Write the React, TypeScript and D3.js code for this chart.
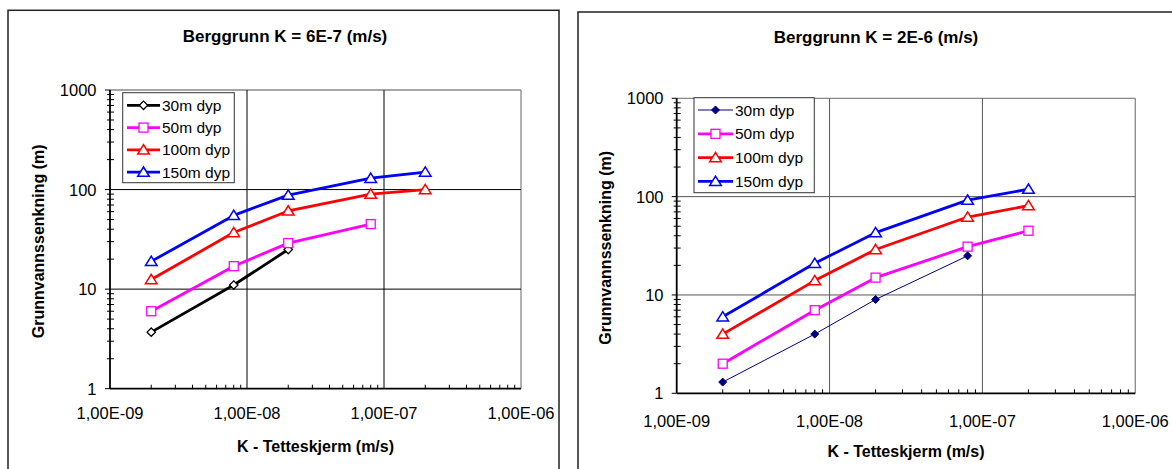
import React from 'react';
import * as d3 from 'd3';

// ---------- data ----------
const kValues = [2e-9, 8e-9, 2e-8, 8e-8, 2e-7];
const seriesNames = ['30m dyp', '50m dyp', '100m dyp', '150m dyp'];

const left30 = [3.7, 11, 25];
const left50 = [6, 17, 29, 45];
const left100 = [12.5, 37, 61, 90, 100];
const left150 = [19, 55, 88, 130, 150];

const right30 = [1.3, 4, 9, 25];
const right50 = [2, 7, 15, 31, 45];
const right100 = [4, 14, 29, 62, 81];
const right150 = [6, 21, 43, 92, 119];

const xTickValues = [1e-9, 1e-8, 1e-7, 1e-6];
const xTickLabels = ['1,00E-09', '1,00E-08', '1,00E-07', '1,00E-06'];
const yTickValues = [1, 10, 100, 1000];
const yTickLabels = ['1', '10', '100', '1000'];

const titleLeft = 'Berggrunn K = 6E-7 (m/s)';
const titleRight = 'Berggrunn K = 2E-6 (m/s)';
const xTitle = 'K - Tetteskjerm (m/s)';
const yTitle = 'Grunnvannssenkning (m)';

const FONT = '"Liberation Sans", Arial, Helvetica, sans-serif';

type SeriesStyle = {
  name: string;
  values: number[];
  color: string;
  width: number;
  marker: 'diamondOpen' | 'diamondFilled' | 'square' | 'triangle';
};

type Layout = {
  box: { x: number; y: number; w: number; h: number };
  plot: { x0: number; x1: number; y0: number; y1: number };
  title: string;
  titleX: number;
  titleY: number;
  yLabelRight: number;
  xLabelBaseline: number;
  xTitleBaseline: number;
  yTitleX: number;
  legend: { x0: number; y0: number; x1: number; y1: number; rowY: number; rowStep: number; sx0: number; sx1: number; tx: number };
  gridColor: string;
  series: SeriesStyle[];
};

function Marker({ type, x, y, color }: { type: SeriesStyle['marker']; x: number; y: number; color: string }) {
  if (type === 'triangle') {
    const s = 5.2;
    const p = `M${x},${y - s} L${x + s + 0.6},${y + s * 0.8} L${x - s - 0.6},${y + s * 0.8} Z`;
    return <path d={p} fill="white" stroke={color} strokeWidth={1.5} />;
  }
  if (type === 'square') {
    const s = 4.5;
    return <rect x={x - s} y={y - s} width={2 * s} height={2 * s} fill="white" stroke={color} strokeWidth={1.3} />;
  }
  if (type === 'diamondOpen') {
    const s = 4.2;
    const p = `M${x},${y - s} L${x + s},${y} L${x},${y + s} L${x - s},${y} Z`;
    return <path d={p} fill="white" stroke={color} strokeWidth={1.3} />;
  }
  const s = 4;
  const p = `M${x},${y - s} L${x + s},${y} L${x},${y + s} L${x - s},${y} Z`;
  return <path d={p} fill={color} stroke={color} strokeWidth={1} />;
}

function Chart({ L }: { L: Layout }) {
  const { plot } = L;
  const x = d3.scaleLog().domain([1e-9, 1e-6]).range([plot.x0, plot.x1]);
  const y = d3.scaleLog().domain([1, 1000]).range([plot.y1, plot.y0]);
  const line = d3
    .line<[number, number]>()
    .x((d) => x(d[0]))
    .y((d) => y(d[1]));

  const minorX: number[] = [];
  for (let e = -9; e < -6; e++) for (let m = 2; m <= 9; m++) minorX.push(m * Math.pow(10, e));
  const minorY: number[] = [];
  for (let e = 0; e < 3; e++) for (let m = 2; m <= 9; m++) minorY.push(m * Math.pow(10, e));

  const lg = L.legend;
  return (
    <g>
      <rect x={L.box.x} y={L.box.y} width={L.box.w} height={L.box.h} fill="white" stroke="#222" strokeWidth={1.5} />
      <text x={L.titleX} y={L.titleY} textAnchor="middle" fontFamily={FONT} fontWeight="bold" fontSize={17}>
        {L.title}
      </text>
      {/* plot frame top/right */}
      <line x1={plot.x0} x2={plot.x1} y1={plot.y0} y2={plot.y0} stroke="#888" strokeWidth={1.3} />
      <line x1={plot.x1} x2={plot.x1} y1={plot.y0} y2={plot.y1} stroke="#888" strokeWidth={1.3} />
      {/* gridlines */}
      {xTickValues.slice(1, -1).map((v) => (
        <line key={'gx' + v} x1={x(v)} x2={x(v)} y1={plot.y0} y2={plot.y1} stroke={L.gridColor} strokeWidth={1} />
      ))}
      {yTickValues.slice(1, -1).map((v) => (
        <line key={'gy' + v} x1={plot.x0} x2={plot.x1} y1={y(v)} y2={y(v)} stroke={L.gridColor} strokeWidth={1} />
      ))}
      {/* minor ticks */}
      {minorX.map((v) => (
        <line key={'mx' + v} x1={x(v)} x2={x(v)} y1={plot.y1} y2={plot.y1 - 4} stroke="#000" strokeWidth={1} />
      ))}
      {minorY.map((v) => (
        <line key={'my' + v} x1={plot.x0 - 3} x2={plot.x0 + 4} y1={y(v)} y2={y(v)} stroke="#000" strokeWidth={1} />
      ))}
      {yTickValues.map((v) => (
        <line key={'My' + v} x1={plot.x0 - 5} x2={plot.x0} y1={y(v)} y2={y(v)} stroke="#000" strokeWidth={1} />
      ))}
      {/* axes */}
      <line x1={plot.x0} x2={plot.x0} y1={plot.y0} y2={plot.y1} stroke="#000" strokeWidth={1.8} />
      <line x1={plot.x0} x2={plot.x1} y1={plot.y1} y2={plot.y1} stroke="#000" strokeWidth={1.8} />
      {/* tick labels */}
      {yTickValues.map((v, i) => (
        <text key={'yl' + v} x={L.yLabelRight} y={y(v) + 6} textAnchor="end" fontFamily={FONT} fontSize={16.5}>
          {yTickLabels[i]}
        </text>
      ))}
      {xTickValues.map((v, i) => (
        <text key={'xl' + v} x={x(v)} y={L.xLabelBaseline} textAnchor="middle" fontFamily={FONT} fontSize={16.5}>
          {xTickLabels[i]}
        </text>
      ))}
      <text x={(plot.x0 + plot.x1) / 2} y={L.xTitleBaseline} textAnchor="middle" fontFamily={FONT} fontWeight="bold" fontSize={16}>
        {xTitle}
      </text>
      <text
        transform={`translate(${L.yTitleX},${(plot.y0 + plot.y1) / 2 + 2}) rotate(-90)`}
        textAnchor="middle"
        dy="0.35em"
        fontFamily={FONT}
        fontWeight="bold"
        fontSize={16}
      >
        {yTitle}
      </text>
      {/* series */}
      {L.series.map((s) => {
        const pts = s.values.map((v, i) => [kValues[i], v] as [number, number]);
        return (
          <g key={s.name}>
            <path d={line(pts) || ''} fill="none" stroke={s.color} strokeWidth={s.width} strokeLinejoin="round" />
            {pts.map((p, i) => (
              <Marker key={i} type={s.marker} x={x(p[0])} y={y(p[1])} color={s.color} />
            ))}
          </g>
        );
      })}
      {/* legend */}
      <rect x={lg.x0} y={lg.y0} width={lg.x1 - lg.x0} height={lg.y1 - lg.y0} fill="white" stroke="#333" strokeWidth={1} />
      {L.series.map((s, i) => {
        const ry = lg.rowY + i * lg.rowStep;
        return (
          <g key={'lg' + s.name}>
            <line x1={lg.sx0} x2={lg.sx1} y1={ry} y2={ry} stroke={s.color} strokeWidth={s.width} />
            <Marker type={s.marker} x={(lg.sx0 + lg.sx1) / 2} y={ry} color={s.color} />
            <text x={lg.tx} y={ry + 5.5} fontFamily={FONT} fontSize={15.5}>
              {s.name}
            </text>
          </g>
        );
      })}
    </g>
  );
}

const leftLayout: Layout = {
  box: { x: 8, y: 10.3, w: 551, h: 480 },
  plot: { x0: 110, x1: 521, y0: 90, y1: 388.7 },
  title: titleLeft,
  titleX: 285,
  titleY: 42,
  yLabelRight: 96.5,
  xLabelBaseline: 419,
  xTitleBaseline: 452,
  yTitleX: 38,
  legend: { x0: 122.7, y0: 92.7, x1: 234.3, y1: 182.7, rowY: 105.3, rowStep: 22.3, sx0: 127, sx1: 160, tx: 162 },
  gridColor: '#000',
  series: [
    { name: seriesNames[0], values: left30, color: '#000000', width: 2.8, marker: 'diamondOpen' },
    { name: seriesNames[1], values: left50, color: '#ff00ff', width: 2.8, marker: 'square' },
    { name: seriesNames[2], values: left100, color: '#ff0000', width: 2.8, marker: 'triangle' },
    { name: seriesNames[3], values: left150, color: '#0000ff', width: 2.8, marker: 'triangle' },
  ],
};

const rightLayout: Layout = {
  box: { x: 578, y: 12, w: 620, h: 480 },
  plot: { x0: 676.7, x1: 1135.3, y0: 98.3, y1: 393.3 },
  title: titleRight,
  titleX: 876,
  titleY: 42.5,
  yLabelRight: 663.5,
  xLabelBaseline: 426.5,
  xTitleBaseline: 456.5,
  yTitleX: 605,
  legend: { x0: 694, y0: 97.7, x1: 814.3, y1: 192.7, rowY: 110, rowStep: 23.8, sx0: 698, sx1: 733, tx: 735 },
  gridColor: '#555',
  series: [
    { name: seriesNames[0], values: right30, color: '#000080', width: 1, marker: 'diamondFilled' },
    { name: seriesNames[1], values: right50, color: '#ff00ff', width: 2.8, marker: 'square' },
    { name: seriesNames[2], values: right100, color: '#ff0000', width: 2.8, marker: 'triangle' },
    { name: seriesNames[3], values: right150, color: '#0000ff', width: 2.8, marker: 'triangle' },
  ],
};

export default function App() {
  return (
    <svg
      width={1172}
      height={469}
      viewBox="0 0 1172 469"
      style={{ position: 'absolute', left: 0, top: 0, background: 'white' }}
    >
      <rect x={0} y={0} width={1172} height={469} fill="white" />
      <Chart L={leftLayout} />
      <Chart L={rightLayout} />
    </svg>
  );
}
